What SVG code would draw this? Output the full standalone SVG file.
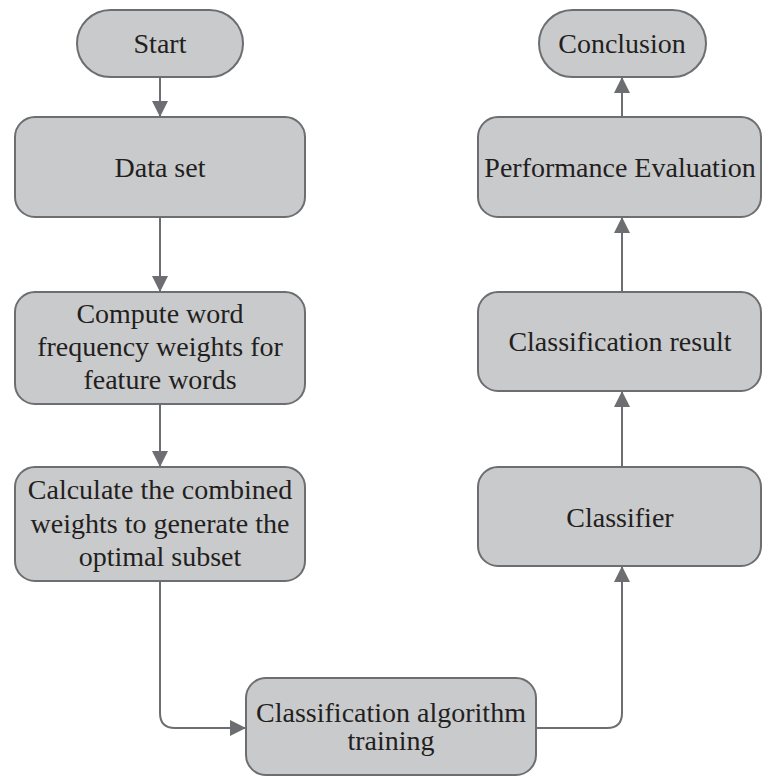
<svg xmlns="http://www.w3.org/2000/svg" width="762" height="776" viewBox="0 0 762 776">
  <defs>
    <style>
      .box { fill: #c9cacc; stroke: #6d6e71; stroke-width: 2; }
      .lbl { font-family: 'Liberation Serif', 'Times New Roman', Times, serif; font-size: 28px; fill: #231f20; text-anchor: middle; }
      .conn { fill: none; stroke: #6d6e71; stroke-width: 2; marker-end: url(#arrow); }
    </style>
    <marker id="arrow" markerUnits="userSpaceOnUse" markerWidth="16" markerHeight="16" refX="15" refY="7.5" orient="auto" viewBox="0 0 15 15">
      <path d="M0,0 L15,7.5 L0,15 z" fill="#6d6e71"/>
    </marker>
  </defs>
  <rect width="762" height="776" fill="#ffffff"/>

  <g id="connectors">
    <path class="conn" d="M160,77 V117"/>
    <path class="conn" d="M160,217 V292"/>
    <path class="conn" d="M160,404 V467"/>
    <path class="conn" d="M160,581 V713 Q160,728 175,728 H246"/>
    <path class="conn" d="M536,728 H607 Q622,728 622,713 V566"/>
    <path class="conn" d="M622,467 V391"/>
    <path class="conn" d="M622,292 V217"/>
    <path class="conn" d="M622,117 V77"/>
  </g>

  <g id="start">
    <rect class="box" x="77" y="10" width="166" height="67" rx="33.5" ry="33.5"/>
    <text class="lbl" x="160" y="53">Start</text>
  </g>
  <g id="dataset">
    <rect class="box" x="15" y="117" width="290" height="100" rx="20" ry="20"/>
    <text class="lbl" x="160" y="177">Data set</text>
  </g>
  <g id="compute">
    <rect class="box" x="15" y="292" width="290" height="112" rx="20" ry="20"/>
    <text class="lbl" x="160" y="323">Compute word</text>
    <text class="lbl" x="160" y="356">frequency weights for</text>
    <text class="lbl" x="160" y="389">feature words</text>
  </g>
  <g id="calculate">
    <rect class="box" x="15" y="467" width="290" height="114" rx="20" ry="20"/>
    <text class="lbl" x="160" y="499">Calculate the combined</text>
    <text class="lbl" x="160" y="533">weights to generate the</text>
    <text class="lbl" x="160" y="566">optimal subset</text>
  </g>
  <g id="training">
    <rect class="box" x="246" y="678" width="290" height="97" rx="20" ry="20"/>
    <text class="lbl" x="391" y="722">Classification algorithm</text>
    <text class="lbl" x="391" y="750">training</text>
  </g>
  <g id="classifier">
    <rect class="box" x="478" y="467" width="283" height="99" rx="20" ry="20"/>
    <text class="lbl" x="620" y="527">Classifier</text>
  </g>
  <g id="result">
    <rect class="box" x="478" y="292" width="283" height="99" rx="20" ry="20"/>
    <text class="lbl" x="620" y="351">Classification result</text>
  </g>
  <g id="evaluation">
    <rect class="box" x="478" y="117" width="283" height="100" rx="20" ry="20"/>
    <text class="lbl" x="620" y="177">Performance Evaluation</text>
  </g>
  <g id="conclusion">
    <rect class="box" x="539" y="10" width="167" height="67" rx="33.5" ry="33.5"/>
    <text class="lbl" x="622" y="53">Conclusion</text>
  </g>
</svg>
